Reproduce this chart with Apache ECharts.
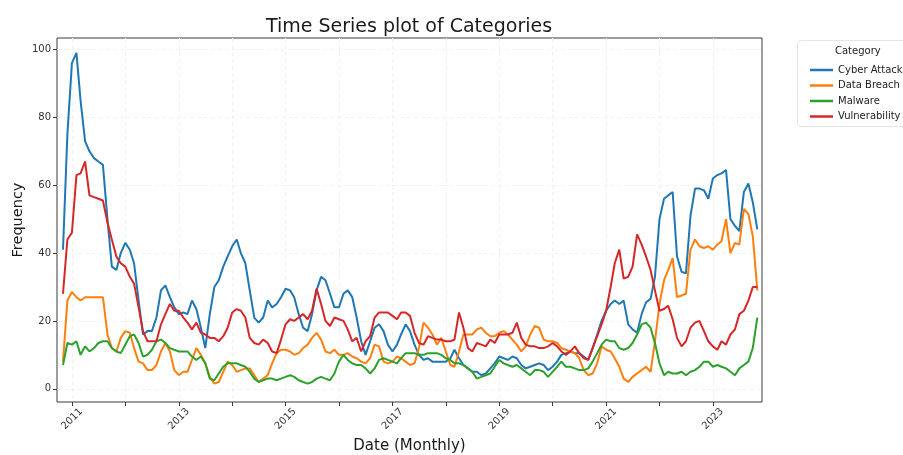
<!DOCTYPE html>
<html>
<head>
<meta charset="utf-8">
<title>Time Series plot of Categories</title>
<script src="https://cdn.jsdelivr.net/npm/echarts@6/dist/echarts.min.js"></script>
<style>
html, body { margin: 0; padding: 0; background: #ffffff; }
#chart { width: 903px; height: 455px; }
</style>
</head>
<body>
<div id="chart"></div>
<script>
// monthly counts, one value per month end: Oct 2010 .. Oct 2023
var startYear = 2010;
var startMonth = 10;
var monthCount = 157;

var seriesNames = ["Cyber Attack", "Data Breach", "Malware", "Vulnerability"];
var seriesColors = ["#1f77b4", "#ff7f0e", "#2ca02c", "#d62728"];

var cyberAttack = [
  41, 75, 96,
  99, 85, 73, 70, 68, 67, 66, 50, 36, 35, 40, 43,
  41, 37, 26, 16, 17, 17, 21, 29, 30.5, 27, 24, 22,
  22.5, 22, 26, 23.5, 18, 12, 22, 30, 32, 36, 39, 42,
  44, 40, 37, 29, 21, 19.5, 21, 26, 24, 25, 27, 29.5,
  29, 27, 22, 18, 17, 22, 29, 33, 32, 28, 24, 24,
  28, 29, 27, 21, 14, 10, 14, 18, 19, 17, 13, 11,
  13, 16, 19, 17, 13, 10, 8.5, 9, 8, 8, 8, 8,
  9, 11.5, 9, 7, 6, 5, 5, 4, 4.5, 6, 7.5, 9.5,
  9, 8.5, 9.5, 9, 7, 6, 6.5, 7, 7.5, 7, 5.5, 6.5,
  8, 10, 10.5, 11, 10.5, 10.5, 9.5, 8.5, 12, 16, 20, 23,
  25, 26, 25, 26, 19, 17.5, 16.5, 22, 25.5, 26.5, 33, 50,
  56, 57, 58, 39, 34.5, 34, 51, 59, 59, 58.5, 56, 62,
  63, 63.5, 64.5, 50, 48, 46.5, 58, 60.5, 55, 47
];

var dataBreach = [
  8, 26, 28.5,
  27, 26, 27, 27, 27, 27, 27, 16, 12, 11, 15, 17,
  16.5, 12, 8, 7.5, 5.5, 5.5, 7, 11, 13.5, 11, 5.5, 4,
  5, 5, 8.5, 12, 10, 7.5, 3.5, 1.5, 2, 5, 8, 7,
  5, 5.5, 6, 6, 4, 2, 3, 4, 7.5, 10.5, 11.5, 11.5,
  11, 10, 10.5, 12, 13, 15, 16.5, 14.5, 11, 10.5, 11.5, 10,
  10, 10.5, 9.5, 9, 8, 7.5, 9, 13, 12.5, 8, 7.5, 8,
  9.5, 9, 8, 7, 7.5, 12, 19.5, 18, 16, 13, 15, 11,
  7, 6.5, 11, 16, 16, 16, 17.5, 18, 16.5, 15.5, 15.5, 16.5,
  17, 16, 14.5, 13, 11, 12.5, 16, 18.5, 18, 14.5, 14, 14,
  13.5, 12, 11.5, 11, 10.5, 9, 5.5, 4, 4.5, 7.5, 12.5, 11.5,
  11, 9, 6.5, 3, 2, 3.5, 4.5, 5.5, 6.5, 5, 14, 25,
  32, 35, 38.5, 27, 27.5, 28, 41, 44, 42, 41.5, 42, 41,
  42.5, 43.5, 50, 40, 43, 42.5, 53, 51.5, 45, 29
];

var malware = [
  7, 13.5, 13,
  14, 10, 12.5, 11, 12, 13.5, 14, 14, 12, 11, 10.5, 13,
  15.5, 16, 13.5, 9.5, 10, 11.5, 14, 14.5, 13.5, 12, 11.5, 11,
  11, 11, 9.5, 8.5, 9.5, 7.5, 3, 2.5, 4.5, 6.5, 7.5, 7.5,
  7.5, 7, 6.5, 5, 3, 2, 2.5, 3, 3, 2.5, 3, 3.5,
  4, 3.5, 2.5, 2, 1.5, 2, 3, 3.5, 3, 2.5, 4.5, 8,
  10, 8.5, 7.5, 7, 7, 6, 4.5, 6, 8.5, 9, 8.5, 8,
  7.5, 9, 10.5, 10.5, 10.5, 10, 10, 10.5, 10.5, 10.5, 10, 9,
  8.5, 7.5, 7.5, 7, 6, 5, 3, 3.5, 4, 4.5, 6.5, 8.5,
  7.5, 7, 6.5, 7, 6, 5, 4, 5.5, 5.5, 5, 3.5, 5,
  6.5, 8, 6.5, 6.5, 6, 5.5, 5.5, 6, 8, 10.5, 13, 14.5,
  14, 14, 12, 11.5, 12, 13.5, 16, 19, 19.5, 18, 13.5, 7.5,
  4, 5, 4.5, 4.5, 5, 4, 5, 5.5, 6.5, 8, 8, 6.5,
  7, 6.5, 6, 5, 4, 6, 7, 8, 12, 21
];

var vulnerability = [
  28, 44, 46,
  63, 63.5, 67, 57, 56.5, 56, 55.5, 49, 44, 39, 37, 36,
  33, 31, 24, 17, 14, 14, 14, 19, 22, 25, 23, 23,
  21, 19.5, 17.5, 19.5, 16.5, 16, 15, 15, 14, 15.5, 18, 22.5,
  23.5, 23, 21, 15, 13.5, 13, 14.5, 13.5, 11, 10.5, 14.5, 19,
  20.5, 20, 21, 22, 20.5, 23, 29.5, 25, 20, 18.5, 21, 20.5,
  20, 17.5, 14, 15, 11, 14, 15.5, 21, 22.5, 22.5, 22.5, 21.5,
  20.5, 22.5, 22.5, 21.5, 16.5, 13.5, 13, 15.5, 15, 14.5, 14.5, 14,
  14, 14.5, 22.5, 18, 12, 11, 13.5, 13, 12.5, 14.5, 13.5, 16,
  16, 16, 16.5, 19.5, 15, 13, 12.5, 12.5, 12, 12, 12.5, 13.5,
  12.5, 11, 10, 11, 12.5, 10.5, 9, 8.5, 12, 15.5, 19, 23,
  30, 37, 41, 32.5, 33, 36, 45.5, 42.5, 39, 35, 29, 23,
  23.5, 24.5, 20.5, 15, 12.5, 14, 18, 19.5, 20, 17, 14, 12.5,
  11.5, 14, 13, 16, 17.5, 22, 23, 26, 30, 30
];

var yTicks = [0, 20, 40, 60, 80, 100];
var xTickYears = [2011, 2012, 2013, 2014, 2015, 2016, 2017, 2018, 2019, 2020, 2021, 2022, 2023];
var xLabelYears = [2011, 2013, 2015, 2017, 2019, 2021, 2023];

var fontFamily = "DejaVu Sans";
var dom = document.getElementById("chart");
var myChart = echarts.init(dom, null, { renderer: "canvas" });

// month end dates as timestamps (x is a numeric axis of milliseconds)
var months = [];
for (var k = 0; k < monthCount; k++) {
  var m = startMonth + k;
  months.push(Date.UTC(startYear + Math.floor((m - 1) / 12), ((m - 1) % 12) + 1, 0));
}

function toPairs(values) {
  return values.map(function (v, idx) {
    return [months[idx], v];
  });
}

var allValues = [cyberAttack, dataBreach, malware, vulnerability];
var series = seriesNames.map(function (name, idx) {
  return {
    name: name,
    type: "line",
    showSymbol: false,
    symbol: "none",
    smooth: false,
    lineStyle: { width: 2, color: seriesColors[idx] },
    itemStyle: { color: seriesColors[idx] },
    data: toPairs(allValues[idx])
  };
});

var tickTimes = xTickYears.map(function (y) { return Date.UTC(y, 0, 1); });
var labelTimes = xLabelYears.map(function (y) { return Date.UTC(y, 0, 1); });

var option = {
  backgroundColor: "#ffffff",
  animation: false,
  title: {
    text: "Time Series plot of Categories",
    left: 404,
    top: 13,
    textAlign: "center",
    textStyle: { fontFamily: fontFamily, fontSize: 19, fontWeight: "normal", color: "#1a1a1a" }
  },
  grid: {
    left: 57,
    top: 38,
    width: 705,
    height: 364,
    show: true,
    borderColor: "#3a3a3a",
    borderWidth: 1,
    backgroundColor: "transparent",
    containLabel: false,
    outerBoundsMode: "none"
  },
  legend: {
    orient: "vertical",
    left: 805,
    top: 60,
    icon: "rect",
    itemWidth: 23,
    itemHeight: 2.5,
    itemGap: 5.5,
    data: seriesNames,
    textStyle: { fontFamily: fontFamily, fontSize: 10, color: "#222222" }
  },
  graphic: [
    {
      type: "rect",
      left: 797,
      top: 40,
      shape: { width: 130, height: 86, r: 3 },
      style: { fill: "#ffffff", stroke: "#e6e6e6", lineWidth: 1 },
      z: -1
    },
    {
      type: "text",
      left: 835,
      top: 46,
      style: { text: "Category", fontFamily: fontFamily, fontSize: 10, fill: "#222222" }
    }
  ],
  xAxis: {
    type: "value",
    min: Date.UTC(2010, 8, 20),
    max: Date.UTC(2023, 11, 2),
    name: "Date (Monthly)",
    nameLocation: "middle",
    nameGap: 37,
    nameTextStyle: { fontFamily: fontFamily, fontSize: 15, color: "#1a1a1a" },
    axisLine: { show: false, onZero: false },
    axisTick: {
      show: true,
      inside: false,
      customValues: tickTimes,
      length: 4,
      lineStyle: { color: "#3a3a3a" }
    },
    axisLabel: {
      customValues: labelTimes,
      rotate: 45,
      align: "center",
      verticalAlign: "middle",
      margin: 17,
      fontFamily: fontFamily,
      fontSize: 10,
      color: "#333333",
      formatter: function (val) {
        return String(new Date(val).getUTCFullYear());
      }
    },
    splitLine: {
      show: true,
      lineStyle: { color: "#f0f0f0", type: [4, 3], width: 1 }
    }
  },
  yAxis: {
    type: "value",
    min: -3.9,
    max: 103.4,
    name: "Frequency",
    nameLocation: "middle",
    nameGap: 31,
    nameMoveOverlap: false,
    nameTextStyle: { fontFamily: fontFamily, fontSize: 14.5, color: "#1a1a1a" },
    axisLine: { show: false, onZero: false },
    axisTick: {
      show: true,
      inside: false,
      customValues: yTicks,
      length: 4,
      lineStyle: { color: "#3a3a3a" }
    },
    axisLabel: {
      customValues: yTicks,
      margin: 6,
      fontFamily: fontFamily,
      fontSize: 10,
      color: "#333333"
    },
    splitLine: {
      show: true,
      lineStyle: { color: "#f2f2f2", type: [4, 3], width: 1 }
    }
  },
  series: series
};

myChart.setOption(option, true);
</script>
</body>
</html>
